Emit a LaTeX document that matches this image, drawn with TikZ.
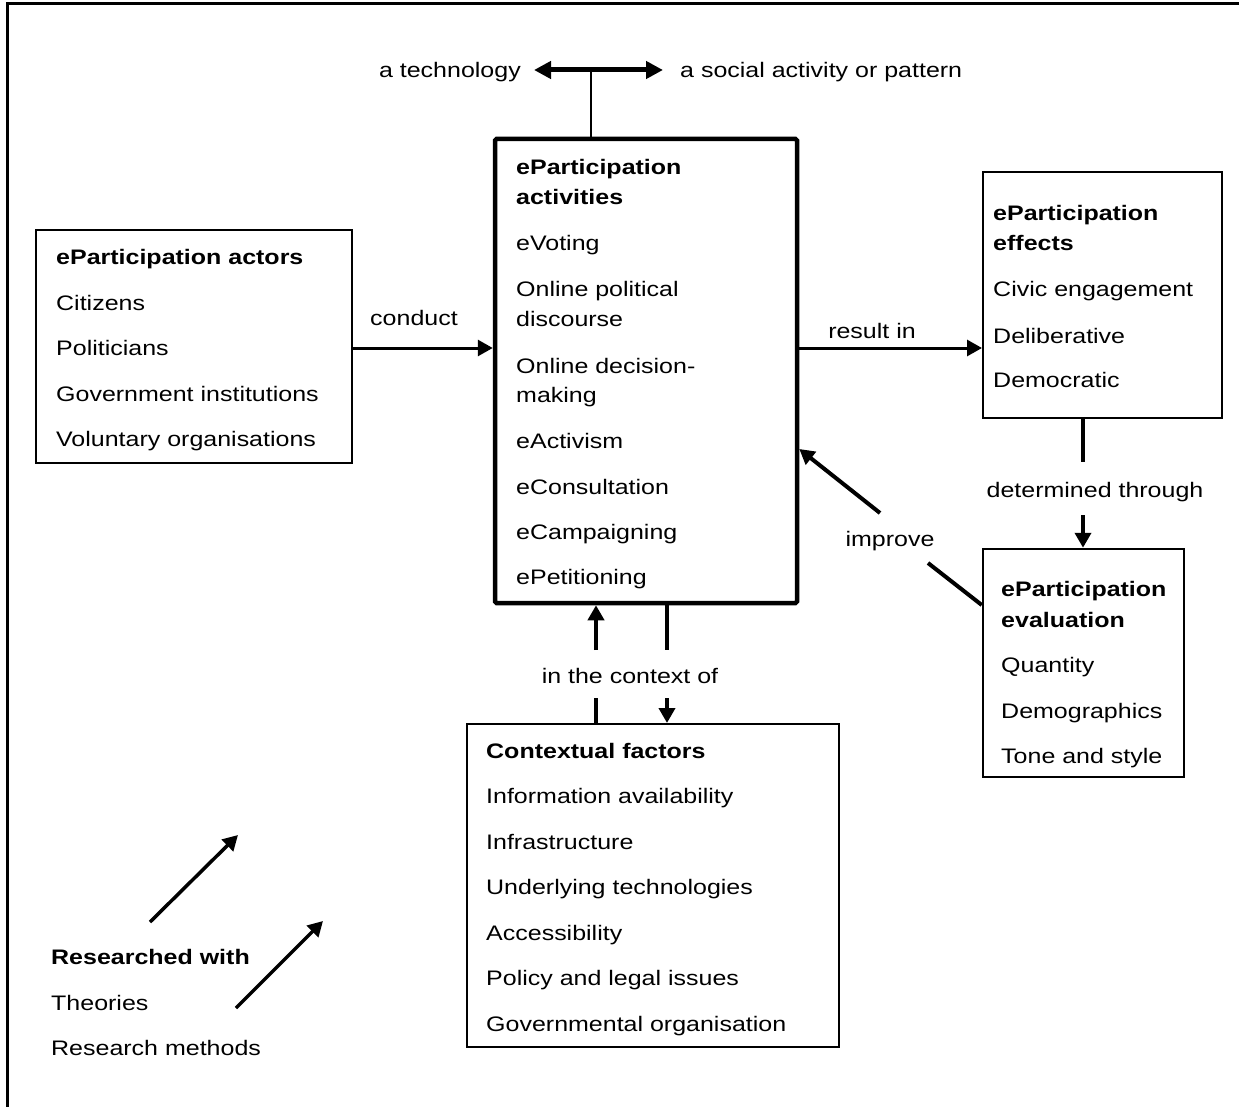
\documentclass[tikz,border=0pt]{standalone}
\usepackage{fontspec}
\setmainfont[FakeStretch=1.19]{Liberation Sans}
\usetikzlibrary{arrows.meta}
\begin{document}
\begin{tikzpicture}[x=1pt,y=-1pt,
  box/.style={draw,line width=2pt,inner sep=0pt,line join=miter},
  mainbox/.style={draw,line width=4.5pt,inner sep=0pt,rounded corners=1.5pt},
  txt/.style={anchor=base west,inner sep=0pt,font=\fontsize{21}{26}\selectfont},
  btxt/.style={txt,font=\fontsize{21}{26}\selectfont\bfseries},
  lbl/.style={anchor=base,inner sep=0pt,font=\fontsize{21}{26}\selectfont},
  tip/.style={-{Triangle[length=15pt,width=16pt]}},
  conn/.style={line width=3pt},
  thk/.style={line width=4pt}]
\useasboundingbox (0,0) rectangle (1239,1107);
% frame
\draw[line width=3pt] (1239,4) -- (7,4) -- (7,1107);

% boxes
\node[box,minimum width=316pt,minimum height=233pt] (act) at (194,346.5) {};
\node[mainbox,minimum width=302pt,minimum height=464pt] (actv) at (646,371) {};
\node[box,minimum width=239pt,minimum height=246pt] (eff) at (1102.5,295) {};
\node[box,line width=2.5pt,minimum width=201pt,minimum height=228pt] (evl) at (1083.5,663) {};
\node[box,minimum width=372pt,minimum height=323pt] (ctx) at (653,885.5) {};

% actors
\node[btxt] (a0) at (56,265) {eParticipation actors};
\node[txt] (a1) at (56,310) {Citizens};
\node[txt] (a2) at (56,355) {Politicians};
\node[txt] (a3) at (56,401) {Government institutions};
\node[txt] (a4) at (56,446) {Voluntary organisations};

% activities
\node[btxt] (b0) at (516,175) {eParticipation};
\node[btxt] (b0b) at (516,205) {activities};
\node[txt] (b1) at (516,251) {eVoting};
\node[txt] (b2) at (516,297) {Online political};
\node[txt] (b2b) at (516,326) {discourse};
\node[txt] (b3) at (516,373) {Online decision-};
\node[txt] (b3b) at (516,402) {making};
\node[txt] (b4) at (516,448) {eActivism};
\node[txt] (b5) at (516,494) {eConsultation};
\node[txt] (b6) at (516,539) {eCampaigning};
\node[txt] (b7) at (516,584) {ePetitioning};

% effects
\node[btxt] (c0) at (993,221) {eParticipation};
\node[btxt] (c0b) at (993,251) {effects};
\node[txt] (c1) at (993,297) {Civic engagement};
\node[txt] (c2) at (993,343) {Deliberative};
\node[txt] (c3) at (993,387) {Democratic};

% evaluation
\node[btxt] (e0) at (1001,596) {eParticipation};
\node[btxt] (e0b) at (1001,627) {evaluation};
\node[txt] (e1) at (1001,672) {Quantity};
\node[txt] (e2) at (1001,718) {Demographics};
\node[txt] (e3) at (1001,763) {Tone and style};

% contextual
\node[btxt] (f0) at (486,758) {Contextual factors};
\node[txt] (f1) at (486,803) {Information availability};
\node[txt] (f2) at (486,849) {Infrastructure};
\node[txt] (f3) at (486,894) {Underlying technologies};
\node[txt] (f4) at (486,940) {Accessibility};
\node[txt] (f5) at (486,985) {Policy and legal issues};
\node[txt] (f6) at (486,1031) {Governmental organisation};

% researched
\node[btxt] (r0) at (51,964) {Researched with};
\node[txt] (r1) at (51,1010) {Theories};
\node[txt] (r2) at (51,1055) {Research methods};

% top labels
\node[anchor=base east,inner sep=0pt,font=\fontsize{21}{26}\selectfont] (tech) at (521,78) {a technology};
\node[txt] (soc) at (680,78) {a social activity or pattern};

% connector labels
\node[lbl] (lcond) at (414,325) {conduct};
\node[lbl] (lres) at (872,338) {result in};
\node[lbl] (ldet) at (1095,497) {determined through};
\node[lbl] (limp) at (890,546) {improve};
\node[lbl] (lctx) at (630,683) {in the context of};

% coordinates
\coordinate (y348) at (0,348);
\coordinate (t0) at (591,70);
\coordinate (tl) at (534,70);
\coordinate (tr) at (663,70);
\coordinate (d1) at (1083,462);
\coordinate (d2) at (1083,515);
\coordinate (i0) at (983,605);
\coordinate (i1) at (928,563);
\coordinate (i2) at (880,513);
\coordinate (i3) at (0,449);
\coordinate (u0) at (596,698);
\coordinate (u1) at (596,650);
\coordinate (v0) at (667,650);
\coordinate (v1) at (667,698);
\coordinate (p1s) at (150,922);
\coordinate (p1e) at (238,835);
\coordinate (p2s) at (236,1008);
\coordinate (p2e) at (323,921);

% connectors
\draw[line width=2pt] (actv.north -| t0) -- (t0);
\draw[line width=5pt,{Triangle[length=17pt,width=17pt]}-{Triangle[length=17pt,width=17pt]}] (tl) -- (tr);

\draw[conn,tip] (act.east |- y348) -- (actv.west |- y348);
\draw[conn,tip] (actv.east |- y348) -- (eff.west |- y348);

\draw[thk] (eff.south -| d1) -- (d1);
\draw[thk,tip] (d2) -- (evl.north -| d2);

\draw[thk] (evl.west |- i0) -- (i1);
\draw[thk,tip] (i2) -- (actv.east |- i3);

\draw[thk] (ctx.north -| u0) -- (u0);
\draw[thk,tip] (u1) -- (actv.south -| u1);
\draw[thk] (actv.south -| v0) -- (v0);
\draw[thk,tip] (v1) -- (ctx.north -| v1);

\draw[line width=3.5pt,tip] (p1s) -- (p1e);
\draw[line width=3.5pt,tip] (p2s) -- (p2e);
\end{tikzpicture}
\end{document}
